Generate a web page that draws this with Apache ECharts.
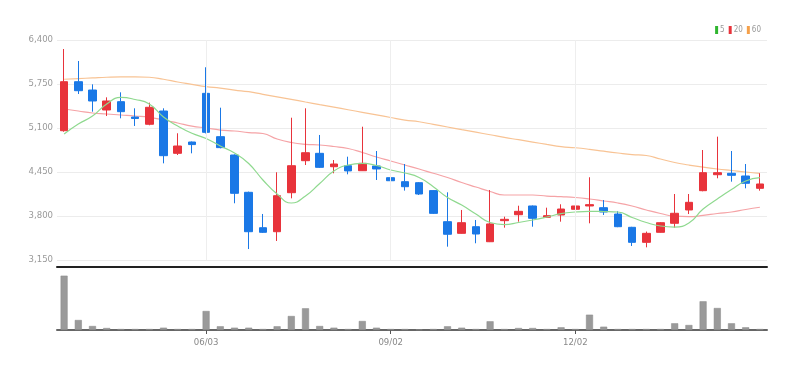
<!DOCTYPE html>
<html><head><meta charset="utf-8">
<script src="https://cdn.jsdelivr.net/npm/echarts@6/dist/echarts.min.js"></script>
<style>html,body{margin:0;padding:0;background:#fff}#c{width:807px;height:371px}</style>
</head><body><div id="c"></div>
<script>
var dates = ['03/25','04/01','04/08','04/15','04/22','04/29','05/06','05/13','05/20','05/27','06/03','06/10','06/17','06/24','07/01','07/08','07/15','07/22','07/29','08/05','08/12','08/19','08/26','09/02','09/09','09/16','09/23','09/30','10/07','10/14','10/21','10/28','11/04','11/11','11/18','11/25','12/02','12/09','12/16','12/23','12/30','01/06','01/13','01/20','01/27','02/03','02/10','02/17','02/24','03/03'];
var shownLabels = ['06/03','09/02','12/02'];
var opens  = [5060,5784,5661,5366,5489,5262,5155,5351,4726,4893,5612,4972,4701,4150,3627,3568,4144,4617,4726,4528,4543,4469,4539,4366,4307,4292,4175,3716,3544,3642,3420,3731,3819,3948,3781,3815,3899,3948,3923,3829,3633,3411,3559,3692,3889,4174,4410,4431,4391,4209];
var closes = [5784,5651,5499,5499,5341,5240,5406,4691,4834,4855,5036,4810,4135,3568,3559,4100,4543,4735,4519,4568,4466,4578,4495,4321,4233,4125,3839,3530,3701,3534,3683,3751,3869,3766,3805,3903,3948,3968,3859,3642,3411,3544,3701,3840,4002,4440,4440,4401,4283,4273];
var lows   = [5045,5602,5341,5277,5243,5130,5140,4578,4701,4726,5020,4800,3988,3312,3550,3431,4061,4553,4510,4431,4416,4465,4332,4233,4175,4110,3830,3347,3540,3397,3415,3628,3716,3642,3775,3716,3805,3692,3815,3635,3357,3337,3555,3627,3829,4165,4357,4307,4209,4174];
var highs  = [6267,6090,5745,5553,5627,5391,5474,5391,5022,4900,5997,5400,4710,4160,3830,4446,5252,5391,4997,4627,4676,5119,4760,4440,4568,4300,4180,4150,3889,3741,4184,3790,3952,3955,3923,3973,3988,4372,4036,3870,3640,3570,3710,4125,4125,4775,4972,4760,4568,4431];
var ma5  = [5011,5159,5277,5455,5551,5521,5455,5262,5129,5022,4945,4834,4731,4576,4332,4125,3992,4095,4280,4465,4553,4578,4546,4480,4435,4369,4233,4073,3962,3830,3704,3674,3704,3741,3785,3834,3859,3869,3866,3859,3778,3704,3652,3637,3697,3903,4051,4191,4317,4366];
var ma20 = [5381,5351,5322,5307,5292,5277,5258,5218,5174,5129,5100,5070,5056,5033,5019,4937,4886,4859,4849,4827,4797,4738,4672,4613,4554,4494,4431,4369,4295,4228,4162,4110,4110,4110,4095,4085,4073,4051,4022,3992,3948,3889,3837,3797,3790,3808,3837,3859,3896,3929];
var ma60 = [5820,5830,5840,5850,5855,5855,5850,5820,5780,5745,5710,5690,5660,5636,5598,5561,5523,5484,5446,5409,5370,5332,5294,5255,5217,5192,5153,5115,5076,5038,5000,4961,4927,4892,4857,4824,4808,4785,4757,4731,4708,4694,4642,4590,4553,4521,4494,4472,4450,4431];
var volumes = [543000,100000,40000,20000,10000,10000,10000,23000,10000,10000,190000,37000,23000,23000,10000,37000,140000,217000,40000,23000,10000,90000,23000,10000,10000,5000,10000,37000,23000,10000,87000,10000,20000,20000,10000,27000,10000,153000,33000,10000,10000,10000,10000,67000,50000,287000,220000,67000,27000,10000];
var yTicks = {min: 3150, max: 6400, interval: 650};

var candleData = opens.map(function(o, i){ return [o, closes[i], lows[i], highs[i]]; });
var UP = '#e8333b', DOWN = '#1a78e6';
var FONT = '"Liberation Sans Narrow", "DejaVu Sans Condensed", "Liberation Sans", sans-serif';
function isShown(i){ return shownLabels.indexOf(dates[i]) >= 0; }

var chart = echarts.init(document.getElementById('c'), null, {renderer: 'canvas'});
chart.setOption({
  animation: false,
  backgroundColor: '#fff',
  legend: {
    right: 41, top: 21, itemWidth: 3, itemHeight: 8, itemGap: 4, icon: 'rect',
    textStyle: {color: '#999', fontSize: 8, fontFamily: FONT, padding: [0,0,0,-3]},
    data: [
      {name: '5', itemStyle: {color: '#2fb52f'}},
      {name: '20', itemStyle: {color: '#e8333b'}},
      {name: '60', itemStyle: {color: '#f5a04a'}}
    ]
  },
  grid: [
    {left: 57, right: 40, top: 40, bottom: 111},
    {left: 57, right: 40, top: 272, bottom: 41}
  ],
  xAxis: [
    {type: 'category', gridIndex: 0, data: dates, boundaryGap: true, offset: 7,
     axisLine: {lineStyle: {color: '#222', width: 2}}, axisTick: {show: false},
     axisLabel: {show: false}, splitLine: {show: false}},
    {type: 'category', gridIndex: 1, data: dates, boundaryGap: true,
     axisLine: {lineStyle: {color: '#666', width: 2}},
     axisTick: {show: true, alignWithLabel: true, length: 4, lineStyle: {color: '#555'},
       interval: function(i){ return isShown(i); }},
     axisLabel: {color: '#888', fontSize: 9.5, fontFamily: FONT, margin: 8,
       interval: function(i){ return isShown(i); }},
     splitLine: {show: false}}
  ],
  yAxis: [
    {type: 'value', gridIndex: 0, min: yTicks.min, max: yTicks.max, interval: yTicks.interval,
     axisLine: {show: false}, axisTick: {show: false},
     axisLabel: {color: '#999', fontSize: 9.5, fontFamily: FONT, margin: 4,
       formatter: function(v){ return v.toLocaleString('en-US'); }},
     splitLine: {lineStyle: {color: '#ececec', width: 1}}},
    {type: 'value', gridIndex: 1, min: 0, max: 580000,
     axisLine: {show: false}, axisTick: {show: false}, axisLabel: {show: false}, splitLine: {show: false}}
  ],
  series: [
    {type: 'candlestick', name: 'price', xAxisIndex: 0, yAxisIndex: 0, data: candleData, barWidth: 8,
     itemStyle: {color: UP, color0: DOWN, borderColor: UP, borderColor0: DOWN, borderWidth: 1},
     markLine: {silent: true, symbol: ['none','none'], label: {show: false},
       lineStyle: {color: '#eeeeee', type: 'solid', width: 1},
       data: shownLabels.map(function(d){ return {xAxis: d}; })},
     z: 3},
    {type: 'line', name: '5', xAxisIndex: 0, yAxisIndex: 0, data: ma5, smooth: true, showSymbol: false,
     lineStyle: {color: '#8fd98f', width: 1.2}, itemStyle: {color: '#2fb52f'}, z: 4},
    {type: 'line', name: '20', xAxisIndex: 0, yAxisIndex: 0, data: ma20, smooth: true, showSymbol: false,
     lineStyle: {color: '#f5a3a6', width: 1.2}, itemStyle: {color: '#e8333b'}, z: 2},
    {type: 'line', name: '60', xAxisIndex: 0, yAxisIndex: 0, data: ma60, smooth: true, showSymbol: false,
     lineStyle: {color: '#f8c394', width: 1.2}, itemStyle: {color: '#f5a04a'}, z: 2},
    {type: 'bar', name: 'vol', xAxisIndex: 1, yAxisIndex: 1, data: volumes, barWidth: 7,
     itemStyle: {color: '#9a9a9a', borderColor: '#888', borderWidth: 0.5}}
  ]
});
</script></body></html>
